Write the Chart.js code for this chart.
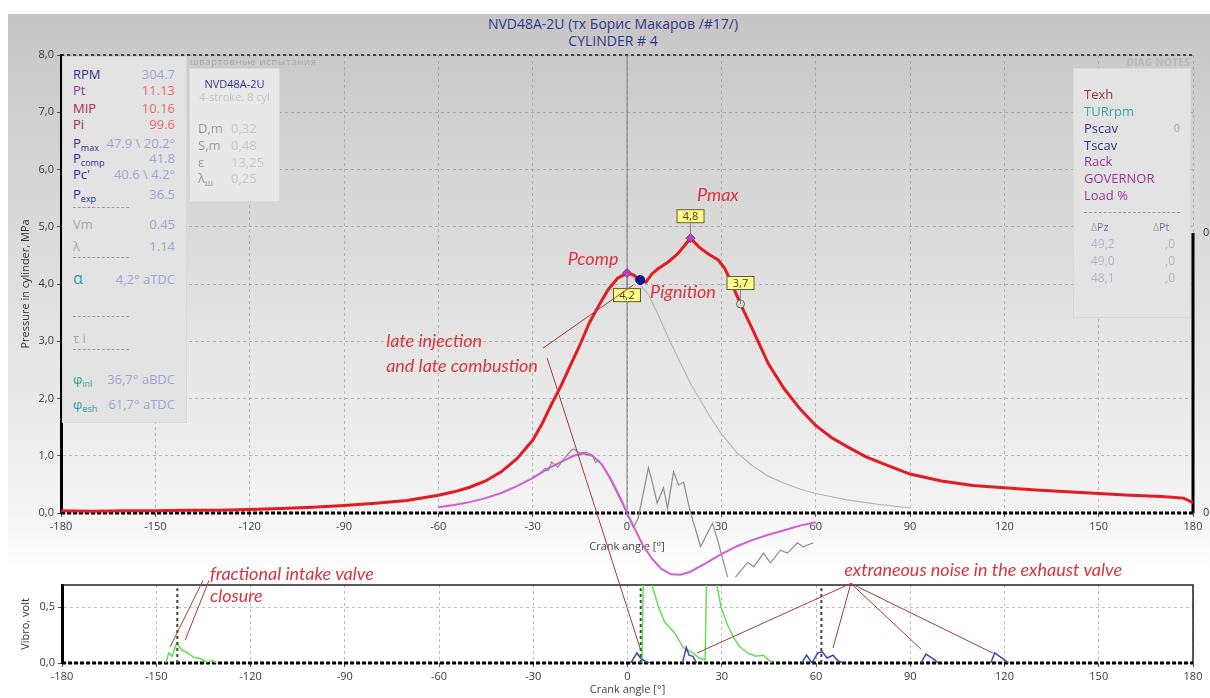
<!DOCTYPE html>
<html>
<head>
<meta charset="utf-8">
<script src="https://cdn.jsdelivr.net/npm/chart.js@4.4.1/dist/chart.umd.min.js"></script>
<style>
  body { margin: 0; background: #fff; }
  #wrap { position: relative; width: 1210px; height: 698px; overflow: hidden; font-family: 'Open Sans', sans-serif; }
  #bg { position: absolute; left: 8px; top: 14px; right: 0; bottom: 0;
        background: linear-gradient(to bottom, #c5c5c5 0px, #cacaca 40px, #f3f3f3 490px, #ffffff 560px); }
  canvas { position: absolute; left: 0; top: 0; }
  .ttl { position: absolute; left: 16px; right: 0; text-align: center; color: #34348c; font-size: 14px; line-height: 17px; }
  .panel { position: absolute; background: #e3e3e3; border: 1px solid #d8d8d8; box-sizing: border-box; }
  .panel div { position: absolute; white-space: nowrap; line-height: 18px; font-size: 13px; }
  .panel .dash { border-top: 1px dashed #9c9c9c; height: 0; line-height: 0; }
  sub { font-size: 9px; vertical-align: -3px; line-height: 0; }
  .small { position: absolute; white-space: nowrap; }
</style>
</head>
<body>
<div id="wrap">
  <div id="bg"></div>
  <div class="ttl" style="top:15px">NVD48A-2U (тх Борис Макаров /#17/)</div>
  <div class="ttl" style="top:32px">CYLINDER # 4</div>
  <canvas id="cylChart" width="1210" height="698"></canvas>

  <div class="small" style="left:190px;top:55px;font-size:9.5px;color:#a8a8a8;letter-spacing:.7px">швартовные испытания</div>
  <div class="small" style="right:20px;top:55px;font-size:10px;font-weight:bold;color:#b8b8b8;letter-spacing:.3px">DIAG NOTES</div>

  <div class="panel" style="left:62px;top:56px;width:125px;height:367px">
    <div style="left:10px;top:8px;color:#2e3192">RPM</div><div style="right:11px;top:8px;color:#a3a3d6">304.7</div>
    <div style="left:10px;top:24px;color:#9b3a9b">Pt</div><div style="right:11px;top:24px;color:#ee6a6a">11.13</div>
    <div style="left:10px;top:42px;color:#a8323e">MIP</div><div style="right:11px;top:42px;color:#ee6a6a">10.16</div>
    <div style="left:10px;top:58px;color:#a8323e">Pi</div><div style="right:11px;top:58px;color:#ee6a6a">99.6</div>
    <div style="left:10px;top:77px;color:#2e3192">P<sub>max</sub></div><div style="right:11px;top:77px;color:#a3a3d6">47.9 \ 20.2°</div>
    <div style="left:10px;top:92px;color:#2e3192">P<sub>comp</sub></div><div style="right:11px;top:92px;color:#a3a3d6">41.8</div>
    <div style="left:10px;top:108px;color:#2e3192">Pc'</div><div style="right:11px;top:108px;color:#a3a3d6">40.6 \ 4.2°</div>
    <div style="left:10px;top:128px;color:#2e3192">P<sub>exp</sub></div><div style="right:11px;top:128px;color:#a3a3d6">36.5</div>
    <div class="dash" style="left:10px;top:150px;width:56px"></div>
    <div style="left:10px;top:158px;color:#a8a8a8">Vm</div><div style="right:11px;top:158px;color:#a3a3d6">0.45</div>
    <div style="left:10px;top:180px;color:#a8a8a8">λ</div><div style="right:11px;top:180px;color:#a3a3d6">1.14</div>
    <div class="dash" style="left:10px;top:200px;width:56px"></div>
    <div style="left:10px;top:212px;color:#2ea39a;font-size:16px">α</div><div style="right:11px;top:213px;color:#a3a3d6">4,2° aTDC</div>
    <div class="dash" style="left:10px;top:259px;width:56px"></div>
    <div style="left:10px;top:272px;color:#a8a8a8">τ i</div>
    <div class="dash" style="left:10px;top:292px;width:56px"></div>
    <div style="left:10px;top:313px;color:#2ea39a">φ<sub>inl</sub></div><div style="right:11px;top:313px;color:#a3a3d6">36,7° aBDC</div>
    <div style="left:10px;top:338px;color:#2ea39a">φ<sub>esh</sub></div><div style="right:11px;top:338px;color:#a3a3d6">61,7° aTDC</div>
  </div>

  <div class="panel" style="left:189px;top:68px;width:91px;height:134px;background:#e8e8e8">
    <div style="left:0;right:0;text-align:center;top:7px;font-size:11px;line-height:16px;color:#2e3192">NVD48A-2U</div>
    <div style="left:0;right:0;text-align:center;top:20px;font-size:11px;line-height:16px;color:#c6c6c6">4-stroke, 8 cyl</div>
    <div style="left:8px;top:50px;color:#9a9a9a">D,m</div><div style="left:41px;top:50px;color:#c8c8c8">0,32</div>
    <div style="left:8px;top:67px;color:#9a9a9a">S,m</div><div style="left:41px;top:67px;color:#c8c8c8">0,48</div>
    <div style="left:8px;top:84px;color:#9a9a9a">ε</div><div style="left:41px;top:84px;color:#c8c8c8">13,25</div>
    <div style="left:8px;top:100px;color:#9a9a9a">λ<sub>ш</sub></div><div style="left:41px;top:100px;color:#c8c8c8">0,25</div>
  </div>

  <div class="panel" style="left:1073px;top:68px;width:118px;height:250px">
    <div style="left:10px;top:16px;color:#a0353d">Texh</div>
    <div style="left:10px;top:33px;color:#3aa6a6">TURrpm</div>
    <div style="left:10px;top:50px;color:#33338a">Pscav</div><div style="right:10px;top:50px;font-size:11px;color:#aaaaaa">0</div>
    <div style="left:10px;top:67px;color:#33338a">Tscav</div>
    <div style="left:10px;top:83px;color:#a0349c">Rack</div>
    <div style="left:10px;top:100px;color:#a0349c">GOVERNOR</div>
    <div style="left:10px;top:117px;color:#a0349c">Load %</div>
    <div class="dash" style="left:10px;top:143px;width:96px"></div>
    <div style="left:17px;top:151px;font-size:10.5px;line-height:14px;color:#6a6ab0"><span style="color:#aaa">Δ</span>Pz</div>
    <div style="left:79px;top:151px;font-size:10.5px;line-height:14px;color:#6a6ab0"><span style="color:#aaa">Δ</span>Pt</div>
    <div style="left:17px;top:167px;font-size:12px;line-height:16px;color:#b4b4d4">49,2</div><div style="right:15px;top:167px;font-size:12px;line-height:16px;color:#b4b4d4">,0</div>
    <div style="left:17px;top:184px;font-size:12px;line-height:16px;color:#b4b4d4">49,0</div><div style="right:15px;top:184px;font-size:12px;line-height:16px;color:#b4b4d4">,0</div>
    <div style="left:17px;top:201px;font-size:12px;line-height:16px;color:#b4b4d4">48,1</div><div style="right:15px;top:201px;font-size:12px;line-height:16px;color:#b4b4d4">,0</div>
  </div>

  <canvas id="vibroChart" width="1210" height="698" style="pointer-events:none"></canvas>
</div>

<script>
// ---------- data ----------
const crankTicks = [-180, -150, -120, -90, -60, -30, 0, 30, 60, 90, 120, 150, 180];
const pressureTicks = [0, 1, 2, 3, 4, 5, 6, 7, 8];
const auxTicks = [0, 0.1];
const vibroTicks = [0, 0.5];

// cylinder pressure, MPa
const crankDeg = [-180, -170, -160, -150, -140, -130, -120, -110, -100, -90, -80, -70, -60, -55, -50, -45, -40, -35, -30, -27,
  -24, -21, -18, -15, -12, -9, -6, -3, 0, 2, 4.2, 6, 8, 10, 13, 16, 18, 20.2, 23, 26,
  29, 31, 33, 36.1, 40, 45, 50, 55, 60, 65, 70, 76, 82, 90, 100, 110, 120, 130, 140, 150,
  160, 170, 177, 180];
const cylPressure = [0.04, 0.03, 0.04, 0.04, 0.05, 0.05, 0.06, 0.08, 0.10, 0.13, 0.17, 0.22, 0.31, 0.37, 0.45, 0.56, 0.72, 0.95, 1.27, 1.56,
  1.90, 2.22, 2.58, 2.93, 3.32, 3.62, 3.90, 4.10, 4.19, 4.16, 4.07, 4.03, 4.18, 4.27, 4.38, 4.52, 4.65, 4.80, 4.64, 4.52,
  4.42, 4.28, 4.05, 3.65, 3.20, 2.60, 2.17, 1.82, 1.53, 1.32, 1.16, 0.98, 0.85, 0.68, 0.56, 0.48, 0.44, 0.40, 0.37, 0.34,
  0.31, 0.29, 0.26, 0.18];

// compression (motoring) line
const motorDeg = [0, 4, 7, 10, 13, 17, 20, 23, 26, 30, 35, 40, 45, 50, 55, 60, 70, 80, 90];
const motorP = [4.19, 4.0, 3.8, 3.45, 3.08, 2.62, 2.28, 2.0, 1.72, 1.38, 1.05, 0.82, 0.64, 0.52, 0.42, 0.34, 0.23, 0.15, 0.09];

// fuel line trace (magenta)
const injDeg = [-60, -55, -50, -45, -40, -35, -30, -25, -20, -17, -14, -11, -8, -5, -2, 0, 2, 5, 8, 11,
  14, 17, 20, 25, 30, 35, 40, 45, 50, 55, 60];
const injP = [0.10, 0.14, 0.19, 0.26, 0.35, 0.47, 0.61, 0.78, 0.92, 1.00, 1.04, 1.00, 0.85, 0.58, 0.25, 0.0, -0.22, -0.56, -0.80, -0.98,
  -1.07, -1.08, -1.03, -0.88, -0.72, -0.58, -0.47, -0.38, -0.30, -0.22, -0.16];

// raw sensor trace (grey, noisy)
const sensDeg = [-30, -28, -26, -25, -24, -22, -20, -18, -17, -15, -13, -11, -10, -9, -7, -5, -2, 0, 2, 3.5,
  5, 6.8, 8, 9.6, 11.6, 12.9, 14.8, 16.4, 18, 20, 23.4, 25.6, 27.2, 28.8, 32, 33, 34.5, 38.4, 40.3, 43.4,
  45.6, 48.8, 51, 54.2, 56, 59.3];
const sensP = [0.63, 0.68, 0.78, 0.74, 0.89, 0.80, 0.95, 1.08, 1.12, 1.05, 1.06, 1.01, 0.88, 0.92, 0.75, 0.55, 0.22, 0.0, -0.25, -0.10,
  0.30, 0.79, 0.55, 0.17, 0.44, 0.08, 0.72, 0.49, 0.54, 0.05, -0.59, -0.35, -0.18, -0.47, -1.12, null, -1.12, -0.86, -0.94, -0.70,
  -0.87, -0.65, -0.70, -0.52, -0.59, -0.52];

// key points: Pcomp, Pignition, Pmax, exhaust
const keyDeg = [0, 4.2, 20.2, 36.1];
const keyP = [4.19, 4.07, 4.80, 3.65];
const keyTag = ['4,2', '', '4,8', '3,7'];
const cursorDeg = 0;

// vibration, volt
const vibroDeg = [-147, -146, -145, -143.5, -142, -140, -138, -136, -134, -132, -131, -130, 4.6, 5.4, 6.6, 8.0, 9.9, 11.8, 15, 17.7,
  20.8, 22.8, 24.7, 25.6, 27.8, 28.6, 29.8, 31.7, 33.7, 35.6, 38.2, 40.8, 43.3, 45.9];
const vibroV = [0, 0.09, 0.06, 0.18, 0.12, 0.09, 0.05, 0.04, 0.01, 0.02, 0, null, 0, 1.4, 1.4, 0.68, 0.5, 0.37, 0.27, 0.14,
  0.09, 0.045, 0.03, 1.4, 1.4, 0.68, 0.5, 0.35, 0.23, 0.15, 0.09, 0.06, 0.07, 0];
const noiseDeg = [1, 3, 4.2, 6, 7, 8, 17.5, 18.7, 19.6, 20.8, 22, 23, 55.5, 57, 58.7, 60.6, 62, 63.5, 65.4, 67, 68.6, 69,
  93.4, 95, 97.2, 99, 100, 115.6, 116.9, 119.4, 121.3];
const noiseV = [0, 0.09, 0.04, 0.01, 0, null, 0, 0.14, 0.07, 0.06, 0, null, 0, 0.07, 0.0, 0.09, 0.10, 0.045, 0.07, 0.02, 0, null,
  0, 0.08, 0.04, 0, null, 0, 0.09, 0.04, 0];
const valveDeg = [-143.3, 4.2, 61.7];
const valveTop = 0.67;

// annotations (in data units of each panel)
const notesA = [
  { t: 'Pmax', x: 28.9, y: 5.55, a: 'center' },
  { t: 'Pcomp', x: -10.8, y: 4.44, a: 'center' },
  { t: 'Pignition', x: 17.8, y: 3.86, a: 'center' },
  { t: 'late injection', x: -76.6, y: 3.0, a: 'left' },
  { t: 'and late combustion', x: -76.6, y: 2.57, a: 'left' }
];
const leadersA = [[-26.7, 2.88, 1.9, 3.98]];
const notesB = [
  { t: 'fractional intake valve', x: -132.9, y: 0.80, a: 'left' },
  { t: 'closure', x: -132.9, y: 0.60, a: 'left' },
  { t: 'extraneous noise in the exhaust valve', x: 113.2, y: 0.83, a: 'center' }
];
const leadersB = [
  [-135.1, 0.741, -145.6, 0.143], [-133.2, 0.741, -140.8, 0.205],
  [71.1, 0.714, 22.1, 0.089], [71.1, 0.714, 65.4, 0.134], [71.1, 0.714, 93.4, 0.125], [71.1, 0.714, 116.3, 0.089]
];
const crossLeader = [-25.4, 2.71, 4.3, 0.107]; // from pressure panel to vibro panel

// ---------- helpers ----------
const pts = (xs, ys) => xs.map((x, i) => ({ x: x, y: ys[i] }));
const comma = v => v.toFixed(1).replace('.', ',');
function line(ctx, x1, y1, x2, y2) { ctx.beginPath(); ctx.moveTo(x1, y1); ctx.lineTo(x2, y2); ctx.stroke(); }

Chart.defaults.font.family = "'Open Sans', sans-serif";
Chart.defaults.font.size = 11;
Chart.defaults.color = '#3a3a3a';

const noteColor = '#d9343f';
const leaderColor = '#a53a3a';
const noteFont = 'italic 18px Lato, sans-serif';
const gridColor = 'rgba(140,140,140,0.55)';
const tagOffset = [22, 0, -22, -21];

function drawNotes(ctx, xs, ys, notes) {
  ctx.fillStyle = noteColor;
  ctx.font = noteFont;
  ctx.textBaseline = 'middle';
  notes.forEach(n => {
    ctx.textAlign = n.a;
    ctx.fillText(n.t, xs.getPixelForValue(n.x), ys.getPixelForValue(n.y));
  });
}

const paperA = {
  id: 'paperA',
  beforeDatasetsDraw(chart) {
    const { ctx, chartArea: a, scales } = chart;
    ctx.save();
    ctx.strokeStyle = '#1a1a1a'; ctx.lineWidth = 1.5; ctx.setLineDash([3, 3]);
    line(ctx, a.left, a.top, a.right, a.top);
    ctx.strokeStyle = '#000'; ctx.lineWidth = 3; ctx.setLineDash([4, 2]);
    line(ctx, a.left, a.bottom, a.right, a.bottom);
    ctx.setLineDash([]);
    line(ctx, a.right, scales.y1.getPixelForValue(auxTicks[1]), a.right, scales.y1.getPixelForValue(auxTicks[0]));
    ctx.restore();
  },
  afterDatasetsDraw(chart) {
    const { ctx, scales } = chart;
    const meta = chart.getDatasetMeta(0);
    ctx.save();
    meta.data.forEach((p, i) => {
      if (!keyTag[i]) return;
      const cy = p.y + tagOffset[i];
      ctx.strokeStyle = '#808080'; ctx.lineWidth = 1;
      line(ctx, p.x, cy + (tagOffset[i] < 0 ? 7 : -7), p.x, p.y);
      ctx.fillStyle = '#ffff8a';
      ctx.fillRect(p.x - 14, cy - 7, 28, 14);
      ctx.strokeStyle = '#5a5a3a';
      ctx.strokeRect(p.x - 14 + 0.5, cy - 7 + 0.5, 27, 13);
      ctx.fillStyle = '#404020';
      ctx.font = '11px "Open Sans", sans-serif';
      ctx.textAlign = 'center'; ctx.textBaseline = 'middle';
      ctx.fillText(keyTag[i], p.x, cy + 0.5);
    });
    ctx.strokeStyle = leaderColor; ctx.lineWidth = 1;
    leadersA.forEach(l => line(ctx, scales.x.getPixelForValue(l[0]), scales.y.getPixelForValue(l[1]),
      scales.x.getPixelForValue(l[2]), scales.y.getPixelForValue(l[3])));
    drawNotes(ctx, scales.x, scales.y, notesA);
    ctx.restore();
  }
};

const cylChart = new Chart(document.getElementById('cylChart'), {
  type: 'line',
  data: {
    datasets: [
      {
        data: pts(keyDeg, keyP), showLine: false,
        pointStyle: ['rectRot', 'circle', 'rectRot', 'circle'],
        pointRadius: [4.5, 4.5, 4.5, 4],
        pointBackgroundColor: ['#c03cc0', '#16169a', '#c03cc0', '#e8d8c8'],
        pointBorderColor: ['#8a2a8a', '#0c0c6a', '#8a2a8a', '#666666'],
        pointBorderWidth: 1
      },
      { data: pts(crankDeg, cylPressure), borderColor: 'rgb(226,28,34)', borderWidth: 3, pointRadius: 0 },
      { data: [{ x: cursorDeg, y: pressureTicks[0] }, { x: cursorDeg, y: pressureTicks[pressureTicks.length - 1] }],
        borderColor: '#7a7a7a', borderWidth: 1, pointRadius: 0 },
      { data: pts(injDeg, injP), borderColor: '#d060d0', borderWidth: 2, pointRadius: 0, clip: false },
      { data: pts(sensDeg, sensP), borderColor: '#8c8c8c', borderWidth: 1.2, pointRadius: 0, clip: false },
      { data: pts(motorDeg, motorP), borderColor: '#b8b8b8', borderWidth: 1.2, pointRadius: 0 }
    ]
  },
  options: {
    responsive: false,
    animation: false,
    devicePixelRatio: 1,
    events: [],
    spanGaps: false,
    layout: { padding: { top: 55, bottom: 141, left: 0, right: 0 } },
    plugins: { legend: { display: false }, tooltip: { enabled: false } },
    scales: {
      x: {
        type: 'linear', min: crankTicks[0], max: crankTicks[crankTicks.length - 1],
        afterBuildTicks: s => { s.ticks = crankTicks.map(v => ({ value: v })); },
        afterFit: s => { s.height = 44; },
        ticks: { autoSkip: false, maxRotation: 0, padding: 3, callback: v => String(v) },
        grid: { color: gridColor, tickLength: 4, tickColor: '#555' },
        border: { display: false, dash: [3, 3] },
        title: { display: true, text: 'Crank angle [°]', color: '#444', padding: { top: 4, bottom: 4 } }
      },
      y: {
        min: pressureTicks[0], max: pressureTicks[pressureTicks.length - 1],
        afterBuildTicks: s => { s.ticks = pressureTicks.map(v => ({ value: v })); },
        afterFit: s => { s.width = 61; },
        ticks: { padding: 3, callback: v => comma(v) },
        grid: { color: gridColor, tickLength: 4, tickColor: '#555' },
        border: { display: true, color: '#000', width: 3, dash: [3, 3] },
        title: { display: true, text: 'Pressure in cylinder, MPa', color: '#333', padding: { top: 19, bottom: 0 } }
      },
      y1: {
        position: 'right', min: 0, max: 0.1636,
        afterBuildTicks: s => { s.ticks = auxTicks.map(v => ({ value: v })); },
        afterFit: s => { s.width = 17; },
        ticks: { padding: 2, callback: v => (v === 0 ? '0' : comma(v)) },
        grid: { display: false },
        border: { display: false }
      }
    }
  },
  plugins: [paperA]
});

const paperB = {
  id: 'paperB',
  beforeDatasetsDraw(chart) {
    const { ctx, chartArea: a } = chart;
    ctx.save();
    ctx.strokeStyle = '#222'; ctx.lineWidth = 1.5;
    ctx.beginPath(); ctx.moveTo(a.left, a.top); ctx.lineTo(a.right, a.top); ctx.lineTo(a.right, a.bottom); ctx.stroke();
    ctx.strokeStyle = '#000'; ctx.lineWidth = 3; ctx.setLineDash([4, 2]);
    line(ctx, a.left, a.bottom, a.right, a.bottom);
    ctx.restore();
  },
  afterDraw(chart) {
    const { ctx, scales } = chart;
    const sa = cylChart.scales;
    ctx.save();
    ctx.strokeStyle = leaderColor; ctx.lineWidth = 1;
    leadersB.forEach(l => line(ctx, scales.x.getPixelForValue(l[0]), scales.y.getPixelForValue(l[1]),
      scales.x.getPixelForValue(l[2]), scales.y.getPixelForValue(l[3])));
    line(ctx, sa.x.getPixelForValue(crossLeader[0]), sa.y.getPixelForValue(crossLeader[1]),
      scales.x.getPixelForValue(crossLeader[2]), scales.y.getPixelForValue(crossLeader[3]));
    drawNotes(ctx, scales.x, scales.y, notesB);
    ctx.restore();
  }
};

const valvePts = [];
valveDeg.forEach(d => { valvePts.push({ x: d, y: 0 }, { x: d, y: valveTop }, { x: d, y: null }); });

new Chart(document.getElementById('vibroChart'), {
  type: 'line',
  data: {
    datasets: [
      { data: valvePts, borderColor: '#34502f', borderWidth: 2, borderDash: [3, 3], pointRadius: 0 },
      { data: pts(noiseDeg, noiseV), borderColor: '#3f48b0', borderWidth: 1.5, pointRadius: 0 },
      { data: pts(vibroDeg, vibroV), borderColor: '#66dd55', borderWidth: 1.5, pointRadius: 0 }
    ]
  },
  options: {
    responsive: false,
    animation: false,
    devicePixelRatio: 1,
    events: [],
    spanGaps: false,
    layout: { padding: { top: 585, bottom: 0, left: 0, right: 17 } },
    plugins: { legend: { display: false }, tooltip: { enabled: false } },
    scales: {
      x: {
        type: 'linear', min: crankTicks[0], max: crankTicks[crankTicks.length - 1],
        afterBuildTicks: s => { s.ticks = crankTicks.map(v => ({ value: v })); },
        afterFit: s => { s.height = 35; },
        ticks: { autoSkip: false, maxRotation: 0, padding: 3, callback: v => String(v) },
        grid: { color: gridColor, tickLength: 4, tickColor: '#555' },
        border: { display: false, dash: [3, 3] },
        title: { display: true, text: 'Crank angle [°]', color: '#444', padding: { top: 0, bottom: 2 } }
      },
      y: {
        min: 0, max: 0.7,
        afterBuildTicks: s => { s.ticks = vibroTicks.map(v => ({ value: v })); },
        afterFit: s => { s.width = 62; },
        ticks: { padding: 3, callback: v => comma(v) },
        grid: { color: gridColor, tickLength: 4, tickColor: '#555' },
        border: { display: true, color: '#000', width: 3, dash: [3, 3] },
        title: { display: true, text: 'Vibro, volt', color: '#333', padding: { top: 19, bottom: 0 } }
      }
    }
  },
  plugins: [paperB]
});
</script>
</body>
</html>
